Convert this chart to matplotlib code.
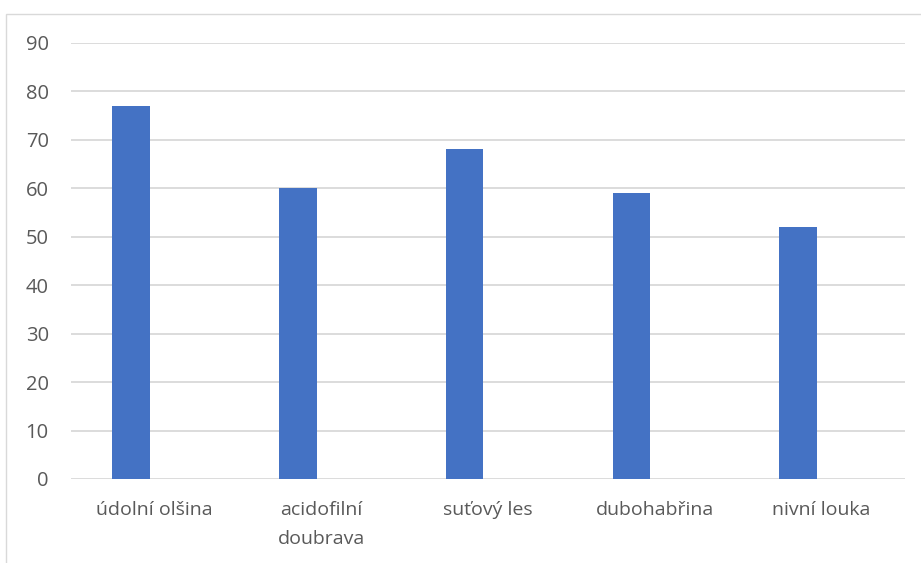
import numpy as np
import matplotlib.pyplot as plt
from matplotlib.patches import Rectangle

# Data
kategorie = ["údolní olšina", "acidofilní\ndoubrava", "suťový les", "dubohabřina", "nivní louka"]
hodnoty = [77, 60, 68, 59, 52]
y_ticks = [0, 10, 20, 30, 40, 50, 60, 70, 80, 90]

plt.rcParams['font.family'] = ['Open Sans', 'DejaVu Sans']

W, H = 921, 563
fig = plt.figure(figsize=(W / 100, H / 100), dpi=100)

# Chart frame (left and top edge visible, rest cropped)
fig.patches.append(Rectangle((6 / W, -0.1), 1.2, (H - 14) / H + 0.1,
                             transform=fig.transFigure, fill=False,
                             edgecolor="#D9D9D9", linewidth=1.0))

left, right = 71 / W, 905 / W
bottom, top = (H - 479) / H, (H - 42.7) / H
ax = fig.add_axes([left, bottom, right - left, top - bottom])

x = np.arange(len(kategorie))
ax.bar(x - 0.14, hodnoty, width=0.225, color="#4472C4", zorder=3)

ax.set_xlim(-0.5, len(kategorie) - 0.5)
ax.set_ylim(0, 90)
ax.set_yticks(y_ticks)
ax.set_xticks(x)
ax.set_xticklabels(kategorie, linespacing=1.75)

ax.yaxis.grid(True, color="#D9D9D9", linewidth=1.3, zorder=0)
for s in ax.spines.values():
    s.set_visible(False)

ax.tick_params(axis="y", length=0, pad=16, labelsize=14.5, labelcolor="#595959")
ax.tick_params(axis="x", length=0, pad=16, labelsize=14, labelcolor="#595959")
for lbl in ax.get_xticklabels():
    lbl.set_verticalalignment("top")

fig.savefig("out.png", dpi=100)
